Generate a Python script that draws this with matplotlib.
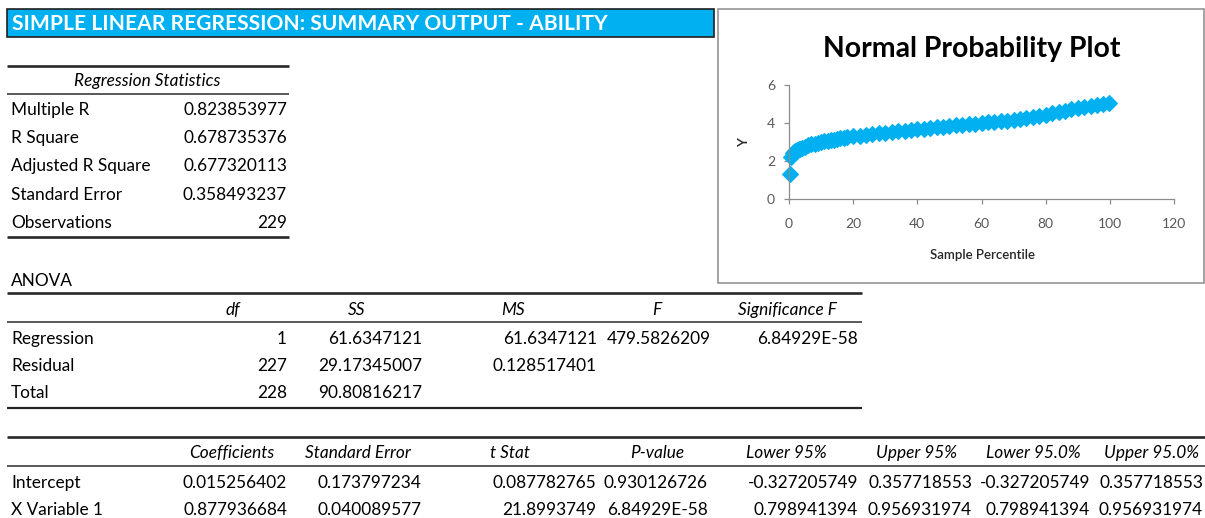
import matplotlib
matplotlib.use("Agg")
import matplotlib.pyplot as plt
from matplotlib import font_manager
from matplotlib.patches import Rectangle

# ---------------- data ----------------
title_text = "SIMPLE LINEAR REGRESSION: SUMMARY OUTPUT - ABILITY"

reg_stat_header = "Regression Statistics"
reg_stat_labels = ["Multiple R", "R Square", "Adjusted R Square", "Standard Error", "Observations"]
reg_stat_values = ["0.823853977", "0.678735376", "0.677320113", "0.358493237", "229"]

anova_title = "ANOVA"
anova_headers = ["df", "SS", "MS", "F", "Significance F"]
anova_rows = ["Regression", "Residual", "Total"]
anova_df = ["1", "227", "228"]
anova_ss = ["61.6347121", "29.17345007", "90.80816217"]
anova_ms = ["61.6347121", "0.128517401", ""]
anova_f = ["479.5826209", "", ""]
anova_sigf = ["6.84929E-58", "", ""]

coef_headers = ["Coefficients", "Standard Error", "t Stat", "P-value",
                "Lower 95%", "Upper 95%", "Lower 95.0%", "Upper 95.0%"]
coef_rows = ["Intercept", "X Variable 1"]
coef_coef = ["0.015256402", "0.877936684"]
coef_se = ["0.173797234", "0.040089577"]
coef_t = ["0.087782765", "21.8993749"]
coef_p = ["0.930126726", "6.84929E-58"]
coef_low = ["-0.327205749", "0.798941394"]
coef_up = ["0.357718553", "0.956931974"]
coef_low2 = ["-0.327205749", "0.798941394"]
coef_up2 = ["0.357718553", "0.956931974"]

npp_title = "Normal Probability Plot"
npp_xlabel = "Sample Percentile"
npp_ylabel = "Y"
npp_percentile = [0.2, 0.7, 1.1, 1.5, 2, 2.5, 3, 3.5, 4, 5, 6, 7, 8, 9, 10, 11, 12, 13, 14,
                  15, 16, 17, 18, 20, 22, 24, 26, 28, 30, 32, 34, 36, 38, 40, 42, 44, 46, 48,
                  50, 52, 54, 56, 58, 60, 62, 64, 66, 68, 70, 72, 74, 76, 78, 80, 82, 84, 86,
                  88, 90, 92, 94, 96, 98, 99.8]
npp_y = [1.3, 2.2, 2.4, 2.5, 2.55, 2.59, 2.62, 2.65, 2.68, 2.75, 2.82, 2.87, 2.92, 2.96,
         3.0, 3.04, 3.07, 3.1, 3.13, 3.16, 3.19, 3.22, 3.25, 3.3, 3.34, 3.38, 3.42, 3.46,
         3.5, 3.53, 3.56, 3.6, 3.63, 3.67, 3.7, 3.73, 3.77, 3.8, 3.84, 3.87, 3.9, 3.94,
         3.97, 4.0, 4.03, 4.06, 4.09, 4.12, 4.16, 4.2, 4.25, 4.3, 4.37, 4.44, 4.51, 4.58,
         4.65, 4.72, 4.8, 4.85, 4.9, 4.95, 5.0, 5.03]
npp_xticks = [0, 20, 40, 60, 80, 100, 120]
npp_yticks = [0, 2, 4, 6]

# ---------------- fonts ----------------
names = {f.name for f in font_manager.fontManager.ttflist}
BODY = ["Lato", "DejaVu Sans"] if "Lato" in names else ["DejaVu Sans"]
NARROW = (["Liberation Sans Narrow", "DejaVu Sans"] if "Liberation Sans Narrow" in names
          else BODY)
plt.rcParams["font.family"] = BODY

W, H = 1205, 518
fig = plt.figure(figsize=(W / 100, H / 100), dpi=100)
fig.patch.set_facecolor("white")

ov = fig.add_axes([0, 0, 1, 1], zorder=0)
ov.set_xlim(0, W)
ov.set_ylim(H, 0)
ov.axis("off")

FS = 12.4
THICK = 2.6 * 0.72
THIN = 1.5 * 0.72
LINEC = "#262626"


def hline(y, x0, x1, lw):
    ov.plot([x0, x1], [y, y], color=LINEC, lw=lw, solid_capstyle="butt")


def txt(x, y, s, ha="left", italic=False, **kw):
    ov.text(x, y, s, ha=ha, va="center", fontsize=kw.pop("fontsize", FS),
            fontstyle="italic" if italic else "normal", color=kw.pop("color", "black"), **kw)


# ---- title bar ----
ov.add_patch(Rectangle((7, 9), 707, 28, facecolor="#00B0F0", edgecolor="#1f1f1f", lw=1.2))
tt = ov.text(12, 23.5, title_text, ha="left", va="center", color="white",
             fontweight="bold", fontsize=16, family=NARROW)
fig.canvas.draw()
r = fig.canvas.get_renderer()
wpx = tt.get_window_extent(r).width
tt.set_fontsize(16 * 594 / wpx)

# ---- Regression statistics ----
hline(66, 7, 289, THICK)
txt(147, 81, reg_stat_header, ha="center", italic=True)
hline(94, 7, 289, THIN)
rs_y = [110, 138, 166, 195, 223]
for yy, lab, val in zip(rs_y, reg_stat_labels, reg_stat_values):
    txt(11, yy, lab)
    txt(287, yy, val, ha="right")
hline(237, 7, 289, THICK)

# ---- ANOVA ----
txt(11, 281, anova_title)
hline(293, 7, 862, THICK)
an_hx = [233, 357, 513, 657, 787]
for x, h in zip(an_hx, anova_headers):
    txt(x, 310, h, ha="center", italic=True)
hline(322, 7, 862, THIN)
an_y = [339, 366, 393]
an_rx = [287, 422, 597, 711, 858]
for i, yy in enumerate(an_y):
    txt(11, yy, anova_rows[i])
    for x, col in zip(an_rx, [anova_df, anova_ss, anova_ms, anova_f, anova_sigf]):
        if col[i]:
            txt(x, yy, col[i], ha="right")
hline(408, 7, 862, THICK * 0.85)

# ---- Coefficients ----
hline(437, 7, W, THICK)
co_hx = [232, 358, 510, 657, 786, 917, 1033, 1152]
for x, h in zip(co_hx, coef_headers):
    txt(x, 453, h, ha="center", italic=True)
hline(466, 7, W, THIN)
co_y = [483, 510]
co_rx = [287, 421, 596, 708, 858, 972, 1090, 1203]
for i, yy in enumerate(co_y):
    txt(11, yy, coef_rows[i])
    for x, col in zip(co_rx, [coef_coef, coef_se, coef_t, coef_p, coef_low, coef_up,
                              coef_low2, coef_up2]):
        txt(x, yy, col[i], ha="right")

# ---- chart box ----
ov.add_patch(Rectangle((718, 9), 486, 274, facecolor="white", edgecolor="#8c8c8c", lw=1.1))
ct = ov.text(972, 49, npp_title, ha="center", va="center", fontsize=20, color="black",
             fontweight="bold")
fig.canvas.draw()
wpx = ct.get_window_extent(r).width
ct.set_fontsize(20 * 297 / wpx)

# ---- normal probability plot ----
x0, x1, y0, y1 = 789, 1174, 199, 85
ax = fig.add_axes([x0 / W, 1 - y0 / H, (x1 - x0) / W, (y0 - y1) / H], zorder=2)
ax.patch.set_alpha(0)
ax.plot(npp_percentile, npp_y, linestyle="none", marker="D", markersize=7.8,
        color="#00B0F0", markeredgecolor="#00B0F0", markeredgewidth=0.8, clip_on=False)
ax.set_xlim(0, 120)
ax.set_ylim(0, 6)
ax.set_xticks(npp_xticks)
ax.set_yticks(npp_yticks)
for s in ["top", "right"]:
    ax.spines[s].set_visible(False)
for s in ["left", "bottom"]:
    ax.spines[s].set_color("#8c8c8c")
    ax.spines[s].set_linewidth(0.9)
ax.tick_params(axis="x", direction="out", length=3.5, width=0.9, color="#8c8c8c",
               pad=10, labelsize=10, labelcolor="#595959")
ax.tick_params(axis="y", direction="out", length=3.5, width=0.9, color="#8c8c8c",
               pad=6.5, labelsize=10, labelcolor="#595959")
ax.set_xlabel(npp_xlabel, fontsize=9.5, color="#262626", fontweight="semibold")
ax.xaxis.set_label_coords((982 - x0) / (x1 - x0), (y0 - 249) / (y0 - y1))
ax.set_ylabel(npp_ylabel, fontsize=10, color="#262626", fontweight="semibold")
ax.yaxis.set_label_coords((750 - x0) / (x1 - x0), (y0 - 143) / (y0 - y1))

fig.savefig("out.png", dpi=100)
